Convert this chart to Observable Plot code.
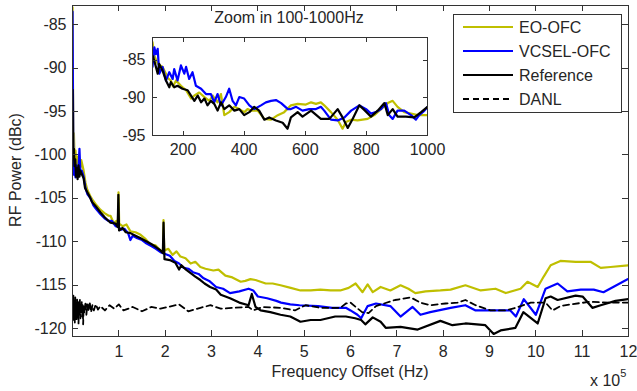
<!DOCTYPE html>
<html>
<head>
<meta charset="utf-8">
<script src="https://cdn.jsdelivr.net/npm/d3@7"></script>
<script src="https://cdn.jsdelivr.net/npm/@observablehq/plot@0.6"></script>
<style>
  html, body { margin: 0; padding: 0; background: #fff; }
  #wrap { position: relative; width: 637px; height: 391px; overflow: hidden; background: #fff; }
  #wrap svg { position: absolute; left: 0; top: 0; }
</style>
</head>
<body>
<div id="wrap"></div>
<script>
// ---------------- data ----------------
const seriesNames = ["EO-OFC", "VCSEL-OFC", "Reference", "DANL"];
const seriesColors = ["#bfbf00", "#0000ff", "#000000", "#000000"];

const xTicks = [1, 2, 3, 4, 5, 6, 7, 8, 9, 10, 11, 12];           // x 10^5 Hz
const yTicks = [-85, -90, -95, -100, -105, -110, -115, -120];     // dBc
const insetXTicks = [200, 400, 600, 800, 1000];                   // Hz
const insetYTicks = [-85, -90, -95];                              // dBc

// main plot: [frequency offset (x 10^5 Hz), RF power (dBc)]
const eoMain = [[0.001,-83],[0.01,-92],[0.02,-98.3],[0.03,-97.5],[0.045,-100.5],[0.065,-99.5],[0.086,-101.2],[0.108,-100.2],[0.13,-101.8],[0.15,-100.8],[0.17,-101.5],[0.19,-100.6],[0.24,-101.8],[0.28,-103.2],[0.32,-104],[0.39,-104.8],[0.45,-105.3],[0.52,-105.8],[0.6,-106.3],[0.69,-106.7],[0.78,-107.0],[0.82,-107.0],[0.885,-107.8],[0.95,-107.6],[0.98,-108],[0.993,-104.3],[1.008,-107.9],[1.08,-108.2],[1.165,-108],[1.25,-108.8],[1.36,-108.9],[1.47,-109.2],[1.58,-109.7],[1.68,-110.3],[1.79,-110.4],[1.9,-111],[1.953,-111.2],[1.964,-107.5],[1.98,-111],[2.07,-110.8],[2.16,-111.5],[2.245,-111.1],[2.33,-111.7],[2.44,-111.9],[2.55,-112.5],[2.65,-112.3],[2.76,-112.9],[2.87,-113.1],[3.04,-113.3],[3.15,-113.2],[3.3,-113.9],[3.45,-114.1],[3.63,-114.6],[3.73,-114.5],[3.84,-114.3],[3.95,-114.4],[4.06,-114.6],[4.17,-114.8],[4.32,-114.8],[4.49,-115],[4.71,-115.3],[4.92,-115.6],[5.14,-115.6],[5.35,-115.5],[5.57,-115.6],[5.78,-115.6],[5.96,-115.3],[6.11,-114.8],[6.26,-115.8],[6.37,-114.9],[6.48,-115.8],[6.65,-115.2],[6.86,-115.6],[7.08,-115],[7.25,-115.4],[7.4,-115.9],[7.62,-115.7],[7.94,-115.6],[8.16,-115.5],[8.48,-115],[8.81,-115.6],[9.13,-115.4],[9.35,-115.9],[9.67,-115.4],[9.82,-114.6],[10.04,-115.2],[10.17,-114],[10.32,-112.7],[10.53,-112.2],[10.86,-112.3],[11.18,-112.3],[11.4,-113],[11.61,-112.9],[12,-112.7]];

const vcselMain = [[0.001,-83.5],[0.01,-93],[0.02,-100.5],[0.035,-102.3],[0.05,-101],[0.065,-102.6],[0.08,-101.2],[0.1,-102.4],[0.13,-101.5],[0.15,-99.3],[0.17,-102],[0.2,-101.8],[0.24,-102.5],[0.28,-103.8],[0.32,-104.5],[0.39,-105],[0.45,-105.8],[0.52,-106.3],[0.6,-106.8],[0.69,-107.3],[0.78,-107.6],[0.85,-107.6],[0.93,-108.2],[0.99,-108.3],[1.05,-108.6],[1.12,-108.5],[1.2,-109],[1.25,-109.8],[1.3,-109.3],[1.4,-109.6],[1.5,-109.8],[1.6,-110.2],[1.7,-110.5],[1.8,-110.8],[1.9,-111.2],[2.0,-111.4],[2.1,-111.6],[2.2,-112.2],[2.3,-112.5],[2.4,-113],[2.5,-113.1],[2.6,-113.5],[2.72,-113.7],[2.83,-114.2],[2.95,-114.5],[3.1,-115.2],[3.25,-115.4],[3.4,-115.9],[3.6,-115.7],[3.8,-115.4],[3.9,-115.6],[4.0,-116.3],[4.2,-116.5],[4.4,-116.8],[4.5,-117],[4.7,-117.2],[4.9,-117.3],[5.3,-117.4],[5.6,-117.6],[5.9,-117.6],[6.0,-117.9],[6.15,-118.4],[6.23,-118.8],[6.37,-117.4],[6.55,-117.1],[6.86,-117.4],[7.08,-118.6],[7.34,-117.5],[7.51,-118.4],[7.72,-118.1],[8.16,-117.6],[8.48,-117.3],[8.7,-117.9],[9.45,-117.9],[9.57,-118.6],[9.74,-116.6],[10.0,-118.4],[10.21,-115.4],[10.47,-114.8],[10.68,-115.7],[10.97,-115.5],[11.25,-115.5],[11.46,-115.8],[11.98,-114.3]];

const refMain = [[0.001,-92.5],[0.006,-96],[0.012,-99.5],[0.02,-100.5],[0.03,-99.3],[0.045,-101.3],[0.06,-100.5],[0.075,-102.5],[0.09,-101.5],[0.11,-102.8],[0.13,-101.2],[0.15,-102.5],[0.17,-101.8],[0.2,-102.2],[0.24,-102.7],[0.27,-103.8],[0.32,-104.3],[0.37,-104.8],[0.42,-105.4],[0.5,-105.9],[0.6,-106.6],[0.7,-107.2],[0.82,-107.8],[0.93,-107.9],[0.975,-108.3],[0.99,-104.6],[1.005,-108.7],[1.08,-108.4],[1.15,-108.9],[1.25,-109],[1.36,-109.3],[1.47,-109.6],[1.58,-109.9],[1.68,-110.2],[1.8,-110.6],[1.9,-111],[1.95,-111.3],[1.965,-107.8],[1.985,-112],[2.1,-112.1],[2.22,-112.4],[2.3,-113.2],[2.35,-112.7],[2.45,-113.2],[2.55,-113.6],[2.65,-114],[2.76,-114.4],[2.85,-114.8],[2.97,-115.2],[3.1,-115.5],[3.2,-116.1],[3.4,-116.5],[3.6,-117],[3.8,-117.3],[3.87,-116],[3.95,-117.5],[4.06,-117.9],[4.27,-118.1],[4.49,-118.4],[4.7,-118.6],[4.92,-119.2],[5.14,-119],[5.35,-119],[5.67,-118.6],[5.9,-118.6],[6.1,-118.8],[6.23,-119],[6.32,-119.5],[6.48,-118.7],[6.65,-119.2],[6.76,-119.9],[7.08,-119.8],[7.45,-120.1],[7.94,-119.1],[8.2,-119.6],[8.48,-119.4],[8.91,-119.6],[9.09,-120.6],[9.24,-120.2],[9.56,-119.9],[9.73,-118.1],[10.04,-119.4],[10.21,-116.5],[10.32,-116.3],[10.47,-116.7],[10.86,-116.2],[11.01,-116.3],[11.22,-117.6],[11.4,-117.3],[11.72,-116.8],[12,-116.6]];

const danlMain = [[0.001,-116.5],[0.01,-119],[0.02,-116.2],[0.03,-118.7],[0.04,-116.8],[0.05,-119.3],[0.06,-116.4],[0.07,-118.9],[0.08,-117],[0.09,-119.1],[0.1,-116.6],[0.11,-118.5],[0.12,-116.9],[0.13,-119.4],[0.14,-117.1],[0.15,-118.3],[0.16,-116.7],[0.17,-118.8],[0.18,-117.2],[0.19,-118.1],[0.2,-116.9],[0.21,-118.6],[0.22,-117.3],[0.23,-119.5],[0.24,-117.4],[0.26,-118.2],[0.28,-116.9],[0.3,-118.4],[0.32,-117.2],[0.34,-118],[0.37,-116.9],[0.4,-118.1],[0.43,-117.3],[0.46,-117.9],[0.5,-117.2],[0.55,-117.8],[0.6,-117.4],[0.7,-117.9],[0.8,-117.3],[0.9,-117.7],[1.0,-117.2],[1.1,-117.9],[1.3,-117.5],[1.5,-118],[1.7,-117.5],[1.9,-117.7],[2.3,-117.2],[2.5,-118],[2.76,-117.6],[2.98,-117.3],[3.2,-117.7],[3.45,-117.6],[3.8,-117.5],[3.9,-117.9],[4.1,-117.5],[4.5,-117.6],[4.8,-117.9],[5.03,-117.3],[5.35,-117.6],[5.78,-117.6],[5.9,-117.1],[6.0,-117],[6.25,-118.1],[6.39,-118.2],[6.55,-117.4],[6.96,-116.7],[7.3,-116.4],[7.51,-117],[7.72,-117.3],[8.05,-117.1],[8.31,-117],[8.48,-116.7],[8.7,-117.3],[9.02,-117.9],[9.35,-117.9],[9.56,-117.6],[9.89,-117],[10.21,-117],[10.36,-117.9],[10.53,-117.4],[10.75,-117.2],[11.18,-116.9],[11.61,-117],[12,-117]];

// inset: [frequency offset (Hz), RF power (dBc)]
const eoInset = [[100,-82.6],[106,-84.4],[117,-85.5],[133,-85.9],[144,-86.8],[150,-87.4],[160,-87.7],[167,-88.5],[177,-87.7],[193,-88.4],[210,-89],[226,-90.1],[237,-89.7],[253,-89.3],[270,-89.9],[286,-90.4],[297,-89.7],[313,-90.6],[324,-89.5],[335,-92.3],[351,-91.9],[368,-91.2],[384,-91.5],[401,-91.9],[411,-91.5],[422,-91.7],[444,-91.7],[466,-92.8],[488,-92.9],[510,-92.3],[531,-91.9],[553,-91],[575,-90.8],[602,-90.9],[619,-90.6],[635,-90.8],[651,-90.6],[662,-91],[684,-91.9],[706,-92.9],[722,-94.1],[733,-93.2],[750,-92.9],[771,-93],[804,-92.8],[826,-92.3],[848,-91.5],[870,-90.7],[886,-90.4],[902,-91.2],[924,-91.9],[946,-92.1],[968,-92.3],[1000,-92.3]];

const vcselInset = [[100,-85.9],[106,-83.3],[111,-84.2],[117,-83.5],[122,-86.8],[133,-85.9],[144,-87.7],[155,-86.6],[166,-87.5],[171,-86.2],[182,-87.7],[193,-85.7],[204,-86.8],[210,-85.9],[220,-87.5],[231,-86.6],[242,-88.4],[259,-88.8],[275,-89.5],[291,-89.5],[302,-90.6],[313,-89.5],[324,-91],[340,-89.9],[351,-88.8],[362,-90.4],[373,-91],[384,-89.9],[400,-90.1],[417,-91],[433,-91.5],[455,-91],[471,-90.6],[488,-90.4],[504,-90.3],[521,-90.7],[543,-91.5],[553,-91.5],[570,-91.2],[591,-91.7],[613,-91.5],[635,-91.5],[651,-91.2],[662,-91.7],[673,-92.3],[684,-92.9],[706,-93],[728,-92.6],[750,-91.7],[777,-91],[799,-91.5],[815,-92.1],[831,-91.9],[848,-91.5],[864,-90.7],[875,-92.3],[886,-92.8],[902,-91.7],[924,-91.7],[946,-92.3],[962,-92.9],[973,-92.3],[990,-91.7],[1000,-91.2]];

const refInset = [[100,-84.4],[106,-85.1],[117,-86.8],[122,-85.5],[133,-86.4],[144,-87.7],[155,-88.6],[160,-87.9],[171,-88.6],[182,-88.4],[198,-88.8],[215,-89],[226,-89.7],[237,-90.4],[248,-89.7],[259,-90.6],[270,-90.1],[280,-91],[291,-90.4],[302,-90.8],[313,-91.7],[324,-90.6],[335,-91.5],[351,-91],[368,-91.7],[384,-91.5],[400,-92.3],[417,-91.9],[433,-91.2],[449,-91.7],[466,-92.9],[482,-92.6],[504,-93],[526,-93.3],[542,-94.1],[553,-92.6],[575,-91.9],[591,-92.5],[619,-91.7],[651,-92.8],[679,-92.8],[706,-91.5],[722,-92.6],[739,-94],[755,-92.8],[777,-91],[793,-91.6],[815,-92.5],[837,-91.7],[859,-90.7],[870,-92.3],[886,-91.5],[902,-92.5],[929,-92.5],[957,-92.6],[979,-91.9],[1000,-91.2]];

// ---------------- build ----------------
const FONT = "'Liberation Sans', Arial, Helvetica, sans-serif";
const INK = "#262626";
const W = 637, H = 391;
const toRows = (pairs, name) => pairs.map(([f, p]) => ({f, p, name}));
const mainRows = [eoMain, vcselMain, refMain, danlMain].map((s, i) => toRows(s, seriesNames[i]));
const insetRows = [eoInset, vcselInset, refInset].map((s, i) => toRows(s, seriesNames[i]));

const M = {left: 72, right: 9, top: 5, bottom: 55};
const lineOpts = (i) => ({x: "f", y: "p", stroke: seriesColors[i], strokeWidth: i === 3 ? 1.8 : 2.2,
  strokeDasharray: i === 3 ? "6,4" : null, clip: true, strokeLinejoin: "round"});

const main = Plot.plot({
  width: W, height: H,
  marginLeft: M.left, marginRight: M.right, marginTop: M.top, marginBottom: M.bottom,
  style: {fontFamily: FONT, fontSize: "16px", color: INK, background: "transparent", overflow: "visible"},
  x: {domain: [0, 12]},
  y: {domain: [-120.9, -82.8]},
  marks: [
    Plot.frame({fill: "#fff"}),
    ...mainRows.map((rows, i) => Plot.line(rows, lineOpts(i))),
    Plot.frame({stroke: "#333", strokeWidth: 1}),
    Plot.axisX({ticks: xTicks, tickSize: 0, tickPadding: 9, tickFormat: d => String(d), label: null, fontSize: 16, fill: INK}),
    Plot.axisY({ticks: yTicks, tickSize: 0, tickPadding: 6, tickFormat: d => String(d).replace("\u2212", "-"), label: null, fontSize: 16, fill: INK})
  ]
});

const IM = {left: 152, right: W - 427, top: 37, bottom: H - 135};
const inset = Plot.plot({
  width: W, height: H,
  marginLeft: IM.left, marginRight: IM.right, marginTop: IM.top, marginBottom: IM.bottom,
  style: {fontFamily: FONT, fontSize: "16px", color: INK, background: "transparent", overflow: "visible"},
  x: {domain: [100, 1000]},
  y: {domain: [-95, -82]},
  marks: [
    Plot.frame({fill: "#fff"}),
    ...insetRows.map((rows, i) => Plot.line(rows, lineOpts(i))),
    Plot.frame({stroke: "#333", strokeWidth: 1}),
    Plot.axisX({ticks: insetXTicks, tickSize: 0, tickPadding: 8, tickFormat: d => String(d), label: null, fontSize: 16, fill: INK}),
    Plot.axisY({ticks: insetYTicks, tickSize: 0, tickPadding: 7, tickFormat: d => String(d).replace("\u2212", "-"), label: null, fontSize: 16, fill: INK})
  ]
});

const wrap = document.getElementById("wrap");
wrap.appendChild(main);
wrap.appendChild(inset);

// inward tick marks (MATLAB style), placed through the plots' own scales
function inwardTicks(svgEl, xt, yt, box, len) {
  const sx = svgEl.scale("x"), sy = svgEl.scale("y");
  const g = d3.select(svgEl).append("g").attr("stroke", "#333").attr("stroke-width", 1).attr("shape-rendering", "crispEdges");
  for (const t of xt) {
    const x = Math.round(sx.apply(t)) + 0.5;
    g.append("line").attr("x1", x).attr("x2", x).attr("y1", box.b).attr("y2", box.b - len);
    g.append("line").attr("x1", x).attr("x2", x).attr("y1", box.t).attr("y2", box.t + len);
  }
  for (const t of yt) {
    const y = Math.round(sy.apply(t)) + 0.5;
    g.append("line").attr("x1", box.l).attr("x2", box.l + len).attr("y1", y).attr("y2", y);
    g.append("line").attr("x1", box.r).attr("x2", box.r - len).attr("y1", y).attr("y2", y);
  }
}
inwardTicks(main, xTicks, yTicks, {l: M.left, r: W - M.right, t: M.top, b: H - M.bottom}, 6);
inwardTicks(inset, insetXTicks, insetYTicks, {l: IM.left, r: W - IM.right, t: IM.top, b: H - IM.bottom}, 4.5);

// axis titles
const ms = d3.select(main);
ms.append("text").attr("x", 350).attr("y", 377).attr("text-anchor", "middle")
  .attr("fill", INK).style("font-size", "16px").style("font-family", FONT).text("Frequency Offset (Hz)");
ms.append("text").attr("transform", "translate(17,170) rotate(-90)").attr("text-anchor", "middle")
  .attr("dominant-baseline", "middle").attr("fill", INK).style("font-size", "16px").style("font-family", FONT).text("RF Power (dBc)");
const exp = ms.append("text").attr("x", 590).attr("y", 386).attr("text-anchor", "start").attr("fill", INK)
  .style("font-size", "16px").style("font-family", FONT);
exp.append("tspan").text("x 10");
exp.append("tspan").attr("dy", -9).style("font-size", "11px").text("5");

// inset title
d3.select(inset).append("text").attr("x", 289).attr("y", 23).attr("text-anchor", "middle")
  .attr("fill", INK).style("font-size", "16px").style("font-family", FONT).text("Zoom in 100-1000Hz");

// legend
const lg = d3.select(inset).append("g");
lg.append("rect").attr("x", 453.5).attr("y", 14.5).attr("width", 168).attr("height", 98)
  .attr("fill", "#fff").attr("stroke", "#333").attr("stroke-width", 1);
const rowsY = [27, 51, 75, 99];
seriesNames.forEach((name, i) => {
  lg.append("line").attr("x1", 463).attr("x2", 513).attr("y1", rowsY[i]).attr("y2", rowsY[i])
    .attr("stroke", seriesColors[i]).attr("stroke-width", i === 3 ? 1.8 : 2.2)
    .attr("stroke-dasharray", i === 3 ? "6,4" : null);
  lg.append("text").attr("x", 519).attr("y", rowsY[i] + 6).attr("text-anchor", "start").attr("fill", INK)
    .style("font-size", "16px").style("font-family", FONT).text(name);
});
</script>
</body>
</html>
